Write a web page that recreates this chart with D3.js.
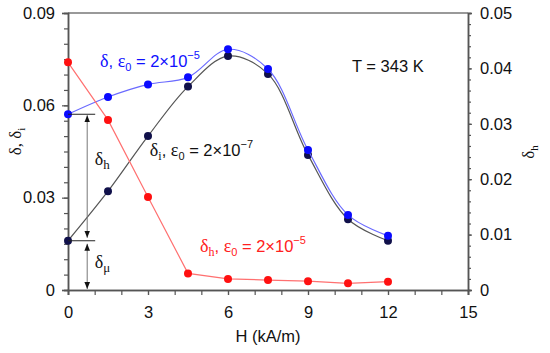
<!DOCTYPE html>
<html>
<head>
<meta charset="utf-8">
<script src="https://cdnjs.cloudflare.com/ajax/libs/d3/7.8.5/d3.min.js"></script>
<style>
  body { margin: 0; background: #fff; }
  text { font-family: "Liberation Sans", Arial, sans-serif; }
  .serif { font-family: "Liberation Serif", "Times New Roman", serif; }
</style>
</head>
<body>
<div id="chart"></div>
<script>
// H in kA/m
const fieldH = [0, 1.5, 3, 4.5, 6, 7.5, 9, 10.5, 12];
// delta, eps0 = 2e-5 (left axis)
const deltaHigh = [0.0571, 0.0627, 0.0668, 0.0691, 0.0782, 0.0718, 0.0455, 0.0244, 0.0176];
// delta_i, eps0 = 2e-7 (left axis)
const deltaInit = [0.0160, 0.0321, 0.0500, 0.0661, 0.0760, 0.0702, 0.0439, 0.0230, 0.0160];
// delta_h, eps0 = 2e-5 (right axis)
const deltaHyst = [0.0411, 0.0307, 0.0168, 0.0030, 0.0020, 0.0018, 0.0016, 0.0012, 0.0015];

const xTicks = [0, 3, 6, 9, 12, 15];
const yLeftTicks = [0, 0.03, 0.06, 0.09];
const yRightTicks = [0, 0.01, 0.02, 0.03, 0.04, 0.05];

const width = 550;
const height = 353;
const margin = { top: 13, left: 68, bottom: 63, right: 82 };
const iwidth = width - margin.left - margin.right;
const iheight = height - margin.top - margin.bottom;

const svg = d3.select('#chart').append('svg')
  .attr('width', width)
  .attr('height', height);

const g = svg.append('g')
  .attr('transform', `translate(${margin.left},${margin.top})`);

const x = d3.scaleLinear().domain([0, 15]).range([0, iwidth]);
const yL = d3.scaleLinear().domain([0, 0.09]).range([iheight, 0]);
const yR = d3.scaleLinear().domain([0, 0.05]).range([iheight, 0]);

const axisColor = '#555';

// top frame line
g.append('line')
  .attr('x1', 0).attr('x2', iwidth).attr('y1', 0).attr('y2', 0)
  .attr('stroke', '#777').attr('stroke-width', 1.5);

// x axis: minor ticks every 1, labels every 3
const xMinor = g.append('g')
  .attr('transform', `translate(0,${iheight})`)
  .call(d3.axisBottom(x).tickValues(d3.range(0, 16, 1)).tickSize(5).tickFormat(''));
const xAxis = g.append('g')
  .attr('transform', `translate(0,${iheight})`)
  .call(d3.axisBottom(x).tickValues(xTicks).tickSize(5).tickPadding(11).tickFormat(d3.format('d')));

// left axis
const yLMinor = g.append('g')
  .call(d3.axisLeft(yL).tickValues(d3.range(0, 0.0901, 0.005)).tickSize(4).tickFormat(''));
const yLAxis = g.append('g')
  .call(d3.axisLeft(yL).tickValues(yLeftTicks).tickSize(6).tickPadding(7)
    .tickFormat(d => d === 0 ? '0' : d3.format('.2f')(d)));

// right axis
const yRMinor = g.append('g')
  .attr('transform', `translate(${iwidth},0)`)
  .call(d3.axisRight(yR).tickValues(d3.range(0, 0.0501, 0.002)).tickSize(3).tickFormat(''));
const yRAxis = g.append('g')
  .attr('transform', `translate(${iwidth},0)`)
  .call(d3.axisRight(yR).tickValues(yRightTicks).tickSize(4).tickPadding(8)
    .tickFormat(d => d === 0 ? '0' : d3.format('.2f')(d)));

[xMinor, xAxis, yLMinor, yLAxis, yRMinor, yRAxis].forEach(a => {
  a.select('.domain').attr('stroke', axisColor).attr('stroke-width', 1.5);
  a.selectAll('.tick line').attr('stroke', axisColor).attr('stroke-width', 1.2);
  a.selectAll('.tick text').attr('font-size', 16.5).attr('fill', '#111')
    .style('font-family', '"Liberation Sans", Arial, sans-serif');
});

// axis titles
svg.append('text')
  .attr('x', margin.left + x(7.5)).attr('y', 342)
  .attr('text-anchor', 'middle').attr('font-size', 16.5).attr('fill', '#111')
  .text('H (kA/m)');

const leftTitle = svg.append('text')
  .attr('class', 'serif')
  .attr('transform', `translate(21,${margin.top + iheight / 2 - 10}) rotate(-90)`)
  .attr('text-anchor', 'middle').attr('font-size', 17).attr('fill', '#111');
leftTitle.append('tspan').text('δ, δ');
leftTitle.append('tspan').attr('font-size', 11).attr('dy', 4).text('i');

const rightTitle = svg.append('text')
  .attr('class', 'serif')
  .attr('transform', `translate(534,152) rotate(-90)`)
  .attr('text-anchor', 'middle').attr('font-size', 17).attr('fill', '#111');
rightTitle.append('tspan').text('δ');
rightTitle.append('tspan').attr('font-size', 11).attr('dy', 4).text('h');

// series
const series = [
  { vals: deltaInit, y: yL, line: '#555', dot: '#10104a', curve: d3.curveCatmullRom },
  { vals: deltaHigh, y: yL, line: '#6a6aff', dot: '#0a0aff', curve: d3.curveCatmullRom },
  { vals: deltaHyst, y: yR, line: '#ff7070', dot: '#ff1010', curve: d3.curveLinear }
];

series.forEach(s => {
  const pts = fieldH.map((h, i) => [h, s.vals[i]]);
  const line = d3.line()
    .x(d => x(d[0]))
    .y(d => s.y(d[1]))
    .curve(s.curve);
  g.append('path')
    .datum(pts)
    .attr('fill', 'none')
    .attr('stroke', s.line)
    .attr('stroke-width', 1.2)
    .attr('d', line);
  g.selectAll(null)
    .data(pts)
    .enter()
    .append('circle')
    .attr('cx', d => x(d[0]))
    .attr('cy', d => s.y(d[1]))
    .attr('r', 4)
    .attr('fill', s.dot);
});

// delta_h / delta_mu bracket annotation at H = 0
svg.append('defs').html(
  '<marker id="ah" viewBox="0 0 10 10" refX="10" refY="5" markerWidth="7" markerHeight="7" orient="auto-start-reverse">' +
  '<path d="M0,1 L10,5 L0,9 z" fill="#111"/></marker>');

const yTop = yL(deltaHigh[0]);
const yMid = yL(deltaInit[0]);
const yBot = yL(0);
const xArrow = x(0.72);

[yTop, yMid].forEach(yy => {
  g.append('line')
    .attr('x1', x(0)).attr('x2', x(1.02)).attr('y1', yy).attr('y2', yy)
    .attr('stroke', '#222').attr('stroke-width', 1);
});
[[yTop, yMid - 2], [yMid + 2, yBot]].forEach(([a, b]) => {
  g.append('line')
    .attr('x1', xArrow).attr('x2', xArrow).attr('y1', a + 1).attr('y2', b - 1)
    .attr('stroke', '#777').attr('stroke-width', 1)
    .attr('marker-start', 'url(#ah)')
    .attr('marker-end', 'url(#ah)');
});

function subLabel(px, py, main, sub, color, size) {
  const t = g.append('text')
    .attr('x', px).attr('y', py)
    .attr('font-size', size).attr('fill', color);
  t.append('tspan').attr('class', 'serif').text(main);
  if (sub) t.append('tspan').attr('class', 'serif').attr('font-size', size * 0.72).attr('dy', 4).text(sub);
  return t;
}

subLabel(x(1.0), yL(0.0406), 'δ', 'h', '#111', 18);
subLabel(x(1.0), yL(0.0071), 'δ', 'μ', '#111', 18);

// series labels with eps0 = 2x10^-n
function seriesLabel(px, py, sub, exp, color) {
  const t = g.append('text')
    .attr('x', px).attr('y', py)
    .attr('font-size', 16.5).attr('fill', color);
  t.append('tspan').attr('class', 'serif').attr('font-size', 18).text('δ');
  if (sub) t.append('tspan').attr('class', 'serif').attr('font-size', 12).attr('dy', 4).text(sub);
  t.append('tspan').attr('dy', sub ? -4 : 0).text(', ');
  t.append('tspan').attr('class', 'serif').attr('font-size', 18).text('ε');
  t.append('tspan').attr('font-size', 11).attr('dy', 4).text('0');
  t.append('tspan').attr('dy', -4).text(' = 2×10');
  t.append('tspan').attr('font-size', 11).attr('dy', -8).text('−' + exp);
  return t;
}

seriesLabel(x(1.2), yL(0.0724), null, 5, '#1010ff');
seriesLabel(x(3.07), yL(0.0435), 'i', 7, '#111');
seriesLabel(x(4.95), yL(0.0124), 'h', 5, '#ff2020');

g.append('text')
  .attr('x', x(10.65)).attr('y', yL(0.0708))
  .attr('font-size', 16.5).attr('fill', '#111')
  .text('T = 343 K');
</script>
</body>
</html>
